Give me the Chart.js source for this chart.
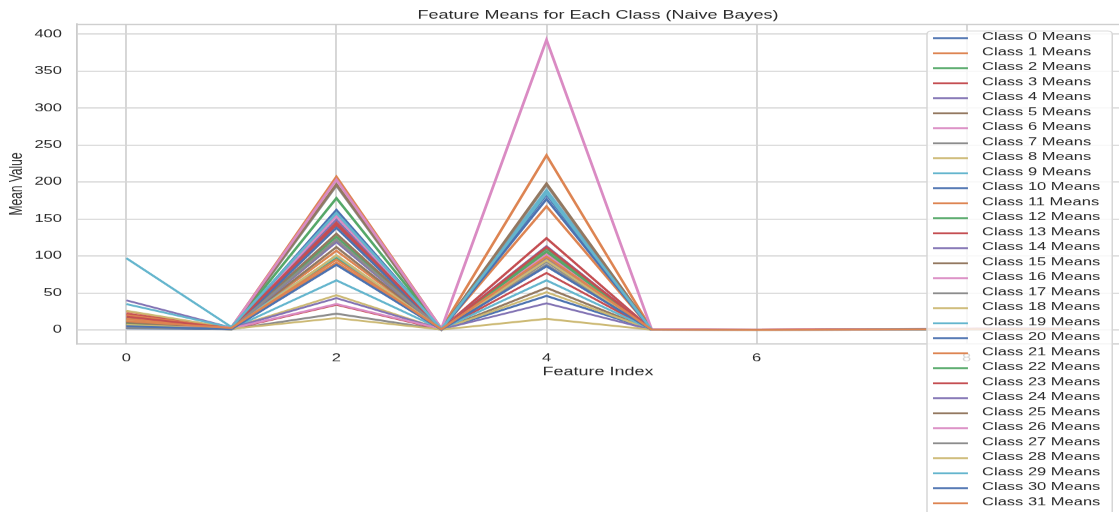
<!DOCTYPE html>
<html>
<head>
<meta charset="utf-8">
<script src="https://cdn.jsdelivr.net/npm/chart.js@4.4.1/dist/chart.umd.min.js"></script>
<style>
  html, body { margin: 0; padding: 0; background: #ffffff; overflow: hidden; }
  #chart { display: block; width: 1119px; height: 512px; }
</style>
</head>
<body>
<canvas id="chart" width="746" height="512" style="width:1119px;height:512px;"></canvas>
<script>
// Feature positions on the x axis
const featureIndex = [0, 1, 2, 3, 4, 5, 6, 7, 8, 9];

// Mean value of each feature, one entry per class (class 0 .. class 31)
const feature0Means = [3, 25, 14, 22, 40, 16, 11, 10, 26, 9, 2, 20, 12, 8, 7, 9, 6, 5, 13, 35, 4, 15, 8, 18, 6, 10, 4, 3, 7, 97, 5, 12];
const feature1Means = [1.2, 2.5, 1.8, 2.1, 3.0, 1.5, 2.2, 0.9, 2.8, 1.6, 1.1, 2.4, 1.9, 1.3, 2.6, 1.7, 2.0, 0.8, 1.4, 3.2, 1.0, 2.9, 1.8, 2.3, 1.5, 2.7, 3.5, 1.2, 0.9, 4.0, 1.1, 2.6];
const feature2Means = [90, 107, 97, 142, 149, 112, 154, 22, 47, 67, 162, 91, 126, 34, 43, 130, 35, 195, 16, 100, 138, 207, 178, 145, 119, 197, 203, 122, 101, 158, 88, 95];
const feature3Means = [0.6, 1.1, 0.8, 1.3, 0.9, 0.7, 1.5, 0.4, 0.9, 1.0, 0.5, 1.2, 0.8, 0.6, 1.0, 0.7, 1.4, 0.3, 0.5, 1.1, 0.6, 1.6, 0.9, 1.0, 0.8, 1.2, 1.8, 0.5, 0.4, 1.3, 0.6, 1.1];
const feature4Means = [46, 167, 100, 124, 113, 57, 108, 92, 51, 189, 177, 104, 110, 77, 36, 96, 102, 196, 15, 67, 183, 236, 106, 112, 98, 198, 392, 88, 94, 185, 86, 99];
const feature5Means = [0.4, 0.6, 0.5, 0.7, 0.5, 0.3, 0.8, 0.2, 0.4, 0.6, 0.3, 0.5, 0.4, 0.6, 0.3, 0.5, 0.7, 0.2, 0.3, 0.5, 0.4, 0.9, 0.5, 0.6, 0.4, 0.7, 1.1, 0.3, 0.2, 0.6, 0.4, 0.5];
const feature6Means = [0.2, 0.3, 0.2, 0.4, 0.3, 0.2, 0.4, 0.1, 0.2, 0.3, 0.2, 0.3, 0.2, 0.3, 0.2, 0.3, 0.4, 0.1, 0.2, 0.3, 0.2, 0.5, 0.3, 0.3, 0.2, 0.4, 0.6, 0.2, 0.1, 0.3, 0.2, 0.3];
const feature7Means = [0.5, 0.7, 0.6, 0.8, 0.6, 0.5, 0.9, 0.4, 0.5, 0.7, 0.5, 0.6, 0.6, 0.7, 0.5, 0.6, 0.8, 0.4, 0.5, 0.7, 0.5, 1.0, 0.6, 0.7, 0.5, 0.8, 1.2, 0.4, 0.4, 0.7, 0.5, 0.6];
const feature8Means = [1.1, 1.3, 1.2, 1.4, 1.2, 1.0, 1.5, 0.9, 1.1, 1.3, 1.0, 1.2, 1.2, 1.3, 1.1, 1.2, 1.4, 0.9, 1.0, 1.3, 1.1, 1.6, 1.2, 1.3, 1.1, 1.4, 1.8, 1.0, 0.9, 1.3, 1.1, 1.2];
const feature9Means = [1.4, 1.7, 1.5, 1.8, 1.6, 1.3, 1.9, 1.2, 1.4, 1.7, 1.3, 1.6, 1.5, 1.7, 1.4, 1.5, 1.8, 1.2, 1.3, 1.7, 1.4, 2.0, 1.5, 1.7, 1.4, 1.8, 2.2, 1.3, 1.2, 1.7, 1.4, 1.6];

const classLabels = [
  'Class 0 Means', 'Class 1 Means', 'Class 2 Means', 'Class 3 Means',
  'Class 4 Means', 'Class 5 Means', 'Class 6 Means', 'Class 7 Means',
  'Class 8 Means', 'Class 9 Means', 'Class 10 Means', 'Class 11 Means',
  'Class 12 Means', 'Class 13 Means', 'Class 14 Means', 'Class 15 Means',
  'Class 16 Means', 'Class 17 Means', 'Class 18 Means', 'Class 19 Means',
  'Class 20 Means', 'Class 21 Means', 'Class 22 Means', 'Class 23 Means',
  'Class 24 Means', 'Class 25 Means', 'Class 26 Means', 'Class 27 Means',
  'Class 28 Means', 'Class 29 Means', 'Class 30 Means', 'Class 31 Means'
];

const xTickValues = [0, 2, 4, 6, 8];
const yTickValues = [0, 50, 100, 150, 200, 250, 300, 350, 400];

// Ten-colour cycle, repeated across the classes
const palette = ['#4c72b0', '#dd8452', '#55a868', '#c44e52', '#8172b3',
                 '#937860', '#da8bc3', '#8c8c8c', '#ccb974', '#64b5cd'];

const featureMeans = [feature0Means, feature1Means, feature2Means, feature3Means, feature4Means,
                      feature5Means, feature6Means, feature7Means, feature8Means, feature9Means];

const datasets = classLabels.map((label, c) => ({
  label: label,
  data: featureIndex.map(f => ({ x: f, y: featureMeans[f][c] })),
  borderColor: palette[c % palette.length],
  backgroundColor: palette[c % palette.length],
  borderWidth: 1.9,
  pointRadius: 0,
  tension: 0,
  fill: false,
  order: classLabels.length - c
}));

const TEXT = '#2a2a2a';
const GRID = '#d6d6d6';
const FONT = "'Liberation Sans', Arial, Helvetica, sans-serif";

// Top edge of the plotting frame
const framePlugin = {
  id: 'frame',
  beforeDatasetsDraw(chart) {
    const { ctx, chartArea } = chart;
    ctx.save();
    ctx.strokeStyle = '#cccccc';
    ctx.lineWidth = 1.2;
    ctx.beginPath();
    ctx.moveTo(chartArea.left, chartArea.top + 0.5);
    ctx.lineTo(chartArea.right, chartArea.top + 0.5);
    ctx.stroke();
    ctx.restore();
  }
};

// Legend box drawn inside the plot, over the lines
const insideLegend = {
  id: 'insideLegend',
  afterDraw(chart) {
    const { ctx } = chart;
    const boxX = 618, boxY = 31, boxW = 123.5, boxH = 492;
    ctx.save();
    ctx.beginPath();
    ctx.roundRect(boxX, boxY, boxW, boxH, 3);
    ctx.fillStyle = 'rgba(255,255,255,0.8)';
    ctx.fill();
    ctx.strokeStyle = '#d6d6d6';
    ctx.lineWidth = 1;
    ctx.stroke();
    ctx.font = '11px ' + FONT;
    ctx.textBaseline = 'middle';
    ctx.textAlign = 'left';
    chart.data.datasets.forEach((ds, i) => {
      const y = 38.3 + 15 * i;
      ctx.strokeStyle = ds.borderColor;
      ctx.lineWidth = 1.8;
      ctx.beginPath();
      ctx.moveTo(622, y);
      ctx.lineTo(645.3, y);
      ctx.stroke();
      ctx.fillStyle = TEXT;
      ctx.fillText(ds.label, 654.7, y - 1.3);
    });
    ctx.restore();
  }
};

new Chart(document.getElementById('chart'), {
  type: 'line',
  data: { datasets },
  options: {
    responsive: false,
    devicePixelRatio: 1.5,
    animation: false,
    layout: { padding: 0 },
    plugins: {
      legend: { display: false },
      tooltip: { enabled: false },
      title: {
        display: true,
        fullSize: false,
        text: 'Feature Means for Each Class (Naive Bayes)',
        color: TEXT,
        font: { family: FONT, size: 12, weight: 'normal', lineHeight: 1.2 },
        padding: { top: 8, bottom: 1.6 }
      }
    },
    scales: {
      x: {
        type: 'linear',
        min: -0.47,
        max: 9.45,
        afterBuildTicks: s => { s.ticks = xTickValues.map(v => ({ value: v })); },
        afterFit: s => { s.height = 168; },
        grid: { color: GRID, lineWidth: 1.3, drawTicks: false },
        border: { display: true, color: '#cccccc', width: 1.2 },
        ticks: { color: TEXT, font: { family: FONT, size: 11 }, padding: 8, maxRotation: 0 },
        title: {
          display: true,
          text: 'Feature Index',
          color: TEXT,
          font: { family: FONT, size: 12, lineHeight: 1.2 },
          padding: { top: 0, bottom: 132.8 }
        }
      },
      y: {
        type: 'linear',
        min: -19,
        max: 413.5,
        afterBuildTicks: s => { s.ticks = yTickValues.map(v => ({ value: v })); },
        afterFit: s => { s.width = 51.3; },
        grid: { color: GRID, lineWidth: 1.2, drawTicks: false },
        border: { display: true, color: '#cccccc', width: 1.2 },
        ticks: { color: TEXT, font: { family: FONT, size: 11 }, padding: 10 },
        title: {
          display: true,
          text: 'Mean Value',
          color: TEXT,
          font: { family: FONT, size: 12, lineHeight: 1.2 },
          padding: { top: 4, bottom: 0 }
        }
      }
    }
  },
  plugins: [framePlugin, insideLegend]
});
</script>
</body>
</html>
